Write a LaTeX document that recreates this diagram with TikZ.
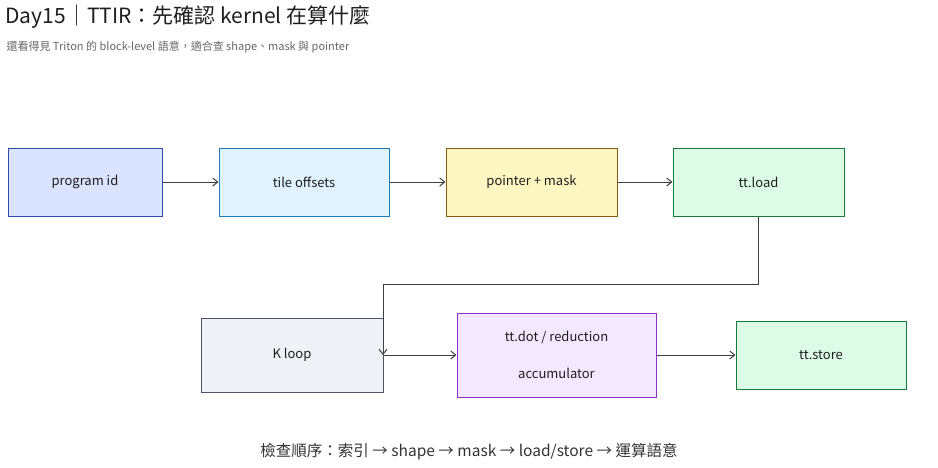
\documentclass[tikz,border=0pt]{standalone}
\usepackage{fontspec}
\setmainfont{Noto Sans CJK TC}
\usetikzlibrary{arrows.meta}
\definecolor{tcol}{HTML}{1E1E1E}
\begin{document}
\begin{tikzpicture}[x=1pt,y=-1pt,
  box/.style={draw, line width=1pt, minimum width=#1, minimum height=68pt, inner sep=0pt, font=\fontsize{13}{15}\selectfont, text=tcol, align=center},
  box/.default=170pt,
  arr/.style={draw=black!75, line width=1pt, -{Straight Barb[length=5pt,width=8pt]}}]
\useasboundingbox (0,0) rectangle (938,467);
\node[anchor=west, font=\fontsize{21}{24}\selectfont, text=tcol] (title) at (2,17) {Day15｜TTIR：先確認 kernel 在算什麼};
\node[anchor=west, font=\fontsize{11}{13}\selectfont, text=black!60] (sub) at (3,47) {還看得見 Triton 的 block-level 語意，適合查 shape、mask 與 pointer};
\node[box=154pt, fill={rgb,255:red,219;green,228;blue,255}, draw={rgb,255:red,47;green,75;blue,176}] (pid) at (85,182) {program id};
\node[box, fill={rgb,255:red,224;green,242;blue,254}, draw={rgb,255:red,28;green,122;blue,181}] (tile) at (304,182) {tile offsets};
\node[box=171pt, fill={rgb,255:red,255;green,247;blue,194}, draw={rgb,255:red,138;green,90;blue,18}] (ptr) at (531.5,182) {pointer + mask};
\node[box=171pt, fill={rgb,255:red,220;green,252;blue,231}, draw={rgb,255:red,26;green,122;blue,58}] (load) at (758.5,182) {tt.load};
\node[box=182pt, minimum height=74pt, fill={rgb,255:red,238;green,242;blue,247}, draw={rgb,255:red,74;green,85;blue,104}] (kloop) at (292,355) {K loop};
\node[box=199pt, minimum height=84pt, fill={rgb,255:red,243;green,232;blue,255}, draw={rgb,255:red,138;green,47;blue,199}, align=center] (dot) at (556.5,355) {tt.dot / reduction\\[22pt]accumulator};
\node[box=170pt, fill={rgb,255:red,220;green,252;blue,231}, draw={rgb,255:red,26;green,122;blue,58}] (store) at (821,355) {tt.store};
\coordinate (m) at (383,284);
\draw[arr] (pid) -- (tile);
\draw[arr] (tile) -- (ptr);
\draw[arr] (ptr) -- (load);
\draw[arr] (load.south) |- (m) -- (m |- kloop.east);
\draw[arr] (kloop) -- (dot);
\draw[arr] (dot) -- (store);
\node[font=\fontsize{15.5}{18}\selectfont, text=black!80] (foot) at (469,452) {檢查順序：索引 → shape → mask → load/store → 運算語意};
\end{tikzpicture}
\end{document}
